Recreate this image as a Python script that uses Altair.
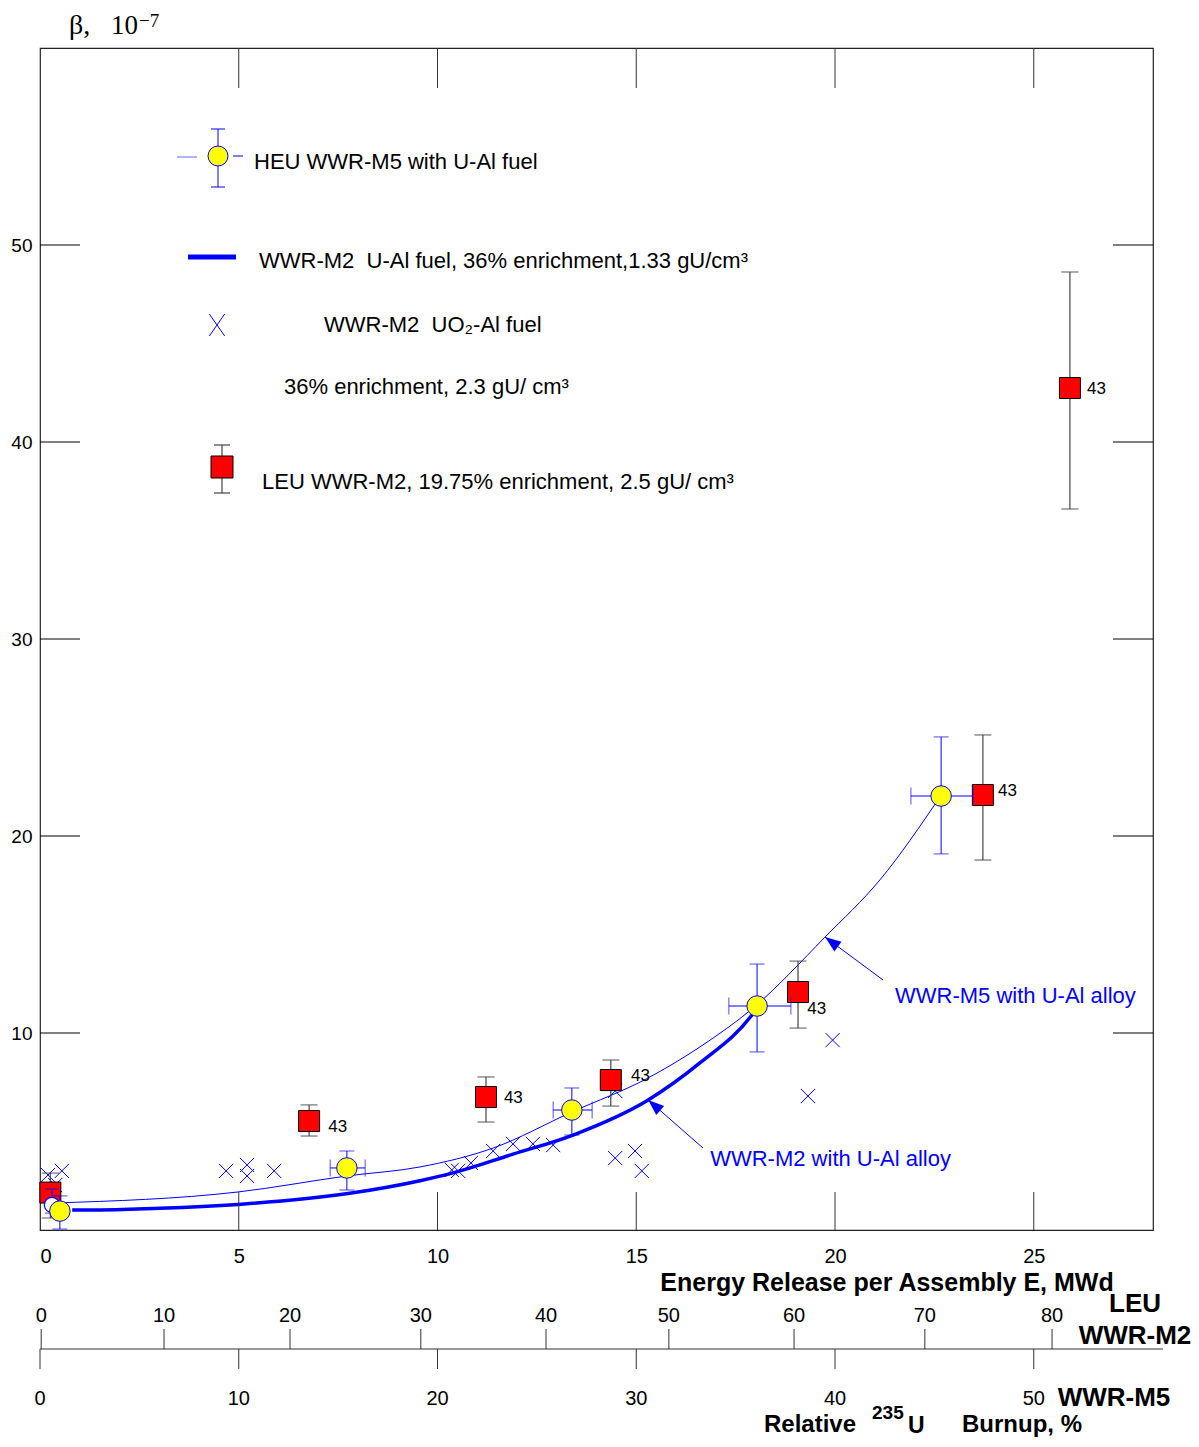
import math
import altair as alt
import pandas as pd

# ---------------- data ----------------
# HEU WWR-M5 with U-Al fuel (yellow circles, blue error bars)
heu_E    = [0.50, 7.72, 13.38, 18.04, 22.67]
heu_beta = [0.96, 3.15, 6.09, 11.37, 22.03]
heu_b_lo = [0.05, 2.03, 4.82, 9.04, 19.09]
heu_b_hi = [1.73, 4.01, 7.21, 13.50, 25.03]
heu_E_lo = [0.50, 7.30, 12.91, 17.33, 21.91]
heu_E_hi = [0.50, 8.18, 13.89, 18.89, 23.47]

# open circle at the start of the curves
open_E    = [0.30]
open_beta = [1.27]
open_lo   = [0.86]
open_hi   = [2.08]

# LEU WWR-M2, 19.75% (red squares, black error bars)
leu_E    = [0.26, 6.77, 11.22, 14.36, 19.07, 23.72, 25.91]
leu_beta = [1.90, 5.53, 6.75, 7.61, 12.08, 22.08, 42.74]
leu_lo   = [0.61, 4.77, 5.48, 6.29, 10.25, 18.78, 36.60]
leu_hi   = [2.89, 6.35, 7.77, 8.63, 13.65, 25.13, 48.63]
tag_E    = [7.25, 11.67, 14.87, 19.30, 24.10, 26.34]
tag_beta = [5.23, 6.70, 7.82, 11.22, 22.28, 42.69]
tag_text = ["43", "43", "43", "43", "43", "43"]

# WWR-M2 UO2-Al fuel (blue crosses)
x_E    = [0.20, 0.55, 0.38, 4.68, 5.21, 5.21, 5.89, 10.36, 10.52, 10.84, 11.40,
          11.90, 12.40, 12.91, 14.47, 14.47, 14.97, 15.14, 19.32, 19.94]
x_beta = [2.79, 3.00, 2.28, 3.00, 3.30, 2.74, 3.00, 3.05, 3.00, 3.40, 4.01,
          4.37, 4.37, 4.31, 7.06, 3.65, 4.01, 3.00, 6.80, 9.64]

# WWR-M2 with U-Al alloy (thick curve)
m2_E    = [0.81, 1.51, 3.02, 4.98, 7.75, 9.56, 10.39, 11.90, 13.41, 15.30, 16.60, 17.91, 18.04]
m2_beta = [1.02, 1.02, 1.10, 1.30, 1.85, 2.50, 2.90, 3.85, 4.82, 6.60, 8.48, 10.91, 11.27]

# WWR-M5 with U-Al alloy (thin curve)
m5_E    = [0.33, 4.98, 7.75, 9.56, 11.40, 13.38, 15.30, 16.60, 17.94, 19.75, 21.13, 22.64]
m5_beta = [1.37, 1.93, 2.75, 3.20, 4.16, 5.99, 7.72, 9.29, 11.27, 14.87, 17.77, 21.98]

# annotation arrows: tail -> tip
arrow_text     = ["WWR-M5 with U-Al alloy", "WWR-M2 with U-Al alloy"]
arrow_tail_E   = [21.21, 16.68]
arrow_tail_b   = [12.69, 4.16]
arrow_tip_E    = [19.75, 15.30]
arrow_tip_b    = [14.87, 6.60]
arrow_label_E  = [21.51, 16.86]
arrow_label_b  = [11.88, 3.60]

# axes
x_ticks = [0, 5, 10, 15, 20, 25]
x_inner = [5, 10, 15, 20, 25]
y_ticks = [10, 20, 30, 40, 50]
leu_burnup_labels = ["0", "10", "20", "30", "40", "50", "60", "70", "80"]
leu_burnup_at_E   = [0.03, 3.12, 6.29, 9.58, 12.73, 15.82, 18.97, 22.26, 25.46]
m5_burnup_labels  = ["0", "10", "20", "30", "40", "50"]
m5_burnup_at_E    = [0.0, 5.0, 10.0, 15.0, 20.0, 25.0]

# ---------------- layout ----------------
W, H = 1113, 1182
XMAX, YMAX = 28, 60
KX, KY = W / XMAX, H / YMAX
BLUE, RED, YEL = "#0000FF", "#FF0000", "#FFFF00"
FONT = "Liberation Sans"
NB = "\u00a0"

xs = alt.Scale(domain=[0, XMAX], nice=False, zero=False)
ys = alt.Scale(domain=[0, YMAX], nice=False, zero=False)

AXX = alt.Axis(values=x_ticks, labelFontSize=20, labelPadding=16, ticks=False,
               domain=False, grid=False, title=None, labelFlush=True,
               labelColor="black", labelFont=FONT)
AXY = alt.Axis(values=y_ticks, labelFontSize=19, labelPadding=8, ticks=False,
               domain=False, grid=False, title=None, labelColor="black",
               labelFont=FONT, labelBaseline="middle")


def X(f):
    return alt.X(f, type="quantitative", scale=xs, axis=AXX)


def Y(f):
    return alt.Y(f, type="quantitative", scale=ys, axis=AXY)


one = pd.DataFrame({"k": [0]})

heu = pd.DataFrame(dict(E=heu_E, b=heu_beta, lo=heu_b_lo, hi=heu_b_hi, El=heu_E_lo, Eh=heu_E_hi))
heu_h = heu[heu.El < heu.Eh]
opn = pd.DataFrame(dict(E=open_E, b=open_beta, lo=open_lo, hi=open_hi))
leu = pd.DataFrame(dict(E=leu_E, b=leu_beta, lo=leu_lo, hi=leu_hi))
tags = pd.DataFrame(dict(E=tag_E, b=tag_beta, t=tag_text))
crosses = pd.DataFrame(dict(E=x_E, b=x_beta))
m2 = pd.DataFrame(dict(E=m2_E, b=m2_beta))
m5 = pd.DataFrame(dict(E=m5_E, b=m5_beta))

arr = pd.DataFrame(dict(t=arrow_text, E0=arrow_tail_E, b0=arrow_tail_b, E1=arrow_tip_E,
                        b1=arrow_tip_b, LE=arrow_label_E, Lb=arrow_label_b))
dxp = (arr.E1 - arr.E0) * KX
dyp = -(arr.b1 - arr.b0) * KY
ln = (dxp ** 2 + dyp ** 2) ** 0.5
arr["ang"] = [(math.degrees(math.atan2(a, -b)) + 360) % 360 for a, b in zip(dxp, dyp)]
arr["hE"] = arr.E1 - 8 * dxp / ln / KX
arr["hb"] = arr.b1 + 8 * dyp / ln / KY

xin = pd.DataFrame({"E": x_inner})
yin = pd.DataFrame({"b": y_ticks})
leu_ax = pd.DataFrame({"E": leu_burnup_at_E, "t": leu_burnup_labels})
m5_ax = pd.DataFrame({"E": m5_burnup_at_E, "t": m5_burnup_labels})

CROSS = "M-1,-1L1,1M-1,1L1,-1"
CROSS_TALL = "M-0.7,-1L0.7,1M-0.7,1L0.7,-1"
HEAD = "M0,-1L-0.75,1L0.75,1Z"

layers = []

# curves
layers.append(alt.Chart(m2).mark_line(strokeWidth=3.5, color=BLUE, interpolate="monotone")
              .encode(x=X("E"), y=Y("b")))
layers.append(alt.Chart(m5).mark_line(strokeWidth=1, color=BLUE, interpolate="monotone")
              .encode(x=X("E"), y=Y("b")))

# inner ticks
tick_c = "#333333"
layers.append(alt.Chart(xin).mark_rule(color=tick_c).encode(x=X("E"), y=alt.value(0), y2=alt.value(40)))
layers.append(alt.Chart(xin).mark_rule(color=tick_c).encode(x=X("E"), y=alt.value(H - 38), y2=alt.value(H)))
layers.append(alt.Chart(yin).mark_rule(color="black").encode(y=Y("b"), x=alt.value(0), x2=alt.value(40)))
layers.append(alt.Chart(yin).mark_rule(color="black").encode(y=Y("b"), x=alt.value(W - 40), x2=alt.value(W)))

# crosses
layers.append(alt.Chart(crosses).mark_point(shape=CROSS, size=200, color=BLUE, strokeWidth=1,
                                            filled=False, opacity=1).encode(x=X("E"), y=Y("b")))

# LEU error bars + squares
ERRC = "#444444"
layers.append(alt.Chart(leu).mark_rule(color=ERRC, strokeWidth=1.2).encode(x=X("E"), y=Y("lo"), y2="hi"))
for f in ["lo", "hi"]:
    layers.append(alt.Chart(leu).mark_tick(orient="horizontal", size=17, thickness=1.3, color=ERRC)
                  .encode(x=X("E"), y=Y(f)))
layers.append(alt.Chart(leu).mark_square(size=441, color=RED, stroke="black", strokeWidth=1, opacity=1)
              .encode(x=X("E"), y=Y("b")))
layers.append(alt.Chart(tags).mark_text(fontSize=17, align="left", baseline="middle", color="black")
              .encode(x=X("E"), y=Y("b"), text="t:N"))

# open circle
layers.append(alt.Chart(opn).mark_rule(color=BLUE).encode(x=X("E"), y=Y("lo"), y2="hi"))
for f in ["lo", "hi"]:
    layers.append(alt.Chart(opn).mark_tick(orient="horizontal", size=14, thickness=1, color=BLUE)
                  .encode(x=X("E"), y=Y(f)))
layers.append(alt.Chart(opn).mark_circle(size=230, color="white", stroke=BLUE, strokeWidth=1.2, opacity=1)
              .encode(x=X("E"), y=Y("b")))

# HEU error bars + circles
layers.append(alt.Chart(heu).mark_rule(color=BLUE).encode(x=X("E"), y=Y("lo"), y2="hi"))
for f in ["lo", "hi"]:
    layers.append(alt.Chart(heu).mark_tick(orient="horizontal", size=15, thickness=1, color=BLUE)
                  .encode(x=X("E"), y=Y(f)))
layers.append(alt.Chart(heu_h).mark_rule(color=BLUE).encode(y=Y("b"), x=X("El"), x2="Eh"))
for f in ["El", "Eh"]:
    layers.append(alt.Chart(heu_h).mark_tick(orient="vertical", size=17, thickness=1, color=BLUE)
                  .encode(x=X(f), y=Y("b")))
layers.append(alt.Chart(heu).mark_circle(size=420, color=YEL, stroke=BLUE, strokeWidth=1, opacity=1)
              .encode(x=X("E"), y=Y("b")))

# arrows + annotation text
layers.append(alt.Chart(arr).mark_rule(color=BLUE, strokeWidth=1).encode(
    x=X("E0"), y=Y("b0"), x2="E1", y2="b1"))
layers.append(alt.Chart(arr).mark_point(shape=HEAD, size=256, filled=True, color=BLUE, opacity=1).encode(
    x=X("hE"), y=Y("hb"), angle=alt.Angle("ang:Q", scale=None)))
layers.append(alt.Chart(arr).mark_text(fontSize=22, align="left", baseline="middle", color=BLUE).encode(
    x=X("LE"), y=Y("Lb"), text="t:N"))


# ---------------- legend (drawn inside the plot) ----------------
def txt(s, x, y, size=22, **kw):
    return alt.Chart(one).mark_text(text=s, fontSize=size, align=kw.pop("align", "left"),
                                    baseline=kw.pop("baseline", "middle"),
                                    color=kw.pop("color", "black"), **kw).encode(
        x=alt.value(x), y=alt.value(y))


def seg(x1, y1, x2, y2, color=BLUE, w=1):
    return alt.Chart(one).mark_rule(color=color, strokeWidth=w).encode(
        x=alt.value(x1), y=alt.value(y1), x2=alt.value(x2), y2=alt.value(y2))


layers += [
    seg(178, 81, 178, 139), seg(171, 81, 185, 81), seg(171, 139, 185, 139),
    seg(137, 109, 157, 109, color="#6666FF"), seg(193, 108, 203, 108),
    alt.Chart(one).mark_circle(size=400, color=YEL, stroke=BLUE, strokeWidth=1, opacity=1)
    .encode(x=alt.value(178), y=alt.value(108)),
    txt("HEU WWR-M5 with U-Al fuel", 214, 114),
    seg(148, 209, 196, 209, w=5),
    txt("WWR-M2" + NB + NB + "U-Al fuel, 36% enrichment,1.33 gU/cm³", 219, 213),
    alt.Chart(one).mark_point(shape=CROSS_TALL, size=484, color=BLUE, strokeWidth=1, filled=False,
                              opacity=1).encode(x=alt.value(177), y=alt.value(277)),
    txt("WWR-M2" + NB + NB + "UO₂-Al fuel", 284, 277),
    txt("36% enrichment, 2.3 gU/ cm³", 244, 339),
    seg(182, 397, 182, 445, color=ERRC, w=1.2), seg(174, 397, 190, 397, color=ERRC, w=1.2),
    seg(174, 445, 190, 445, color=ERRC, w=1.2),
    alt.Chart(one).mark_square(size=484, color=RED, stroke="black", strokeWidth=1, opacity=1)
    .encode(x=alt.value(182), y=alt.value(419)),
    txt("LEU WWR-M2, 19.75% enrichment, 2.5 gU/ cm³", 222, 434),
]

# y axis title
layers += [
    txt("β,", 29, -14, size=28, font="Liberation Serif", baseline="alphabetic"),
    txt("10", 71, -14, size=27, font="Liberation Serif", baseline="alphabetic"),
    txt("−7", 99, -21, size=19, font="Liberation Serif", baseline="alphabetic"),
]

# ---------------- secondary burnup axes ----------------
AX = H + 119
layers.append(seg(0, AX, 1123, AX, color="#333333"))
layers.append(alt.Chart(leu_ax).mark_rule(color="#333333").encode(x=X("E"), y=alt.value(AX - 20), y2=alt.value(AX)))
layers.append(alt.Chart(m5_ax).mark_rule(color="#333333").encode(x=X("E"), y=alt.value(AX), y2=alt.value(AX + 20)))
layers.append(alt.Chart(leu_ax).mark_text(fontSize=20, baseline="middle", color="black")
              .encode(x=X("E"), y=alt.value(H + 86), text="t:N"))
layers.append(alt.Chart(m5_ax).mark_text(fontSize=20, baseline="middle", color="black")
              .encode(x=X("E"), y=alt.value(H + 169), text="t:N"))

layers += [
    txt("Energy Release per Assembly E, MWd", 847, H + 53, size=25, align="center", fontWeight="bold"),
    txt("LEU", 1095, H + 74, size=26, align="center", fontWeight="bold"),
    txt("WWR-M2", 1095, H + 106, size=26, align="center", fontWeight="bold"),
    txt("WWR-M5", 1074, H + 168, size=26, align="center", fontWeight="bold"),
    txt("Relative", 724, H + 195, size=24, fontWeight="bold"),
    txt("235", 832, H + 183, size=19, fontWeight="bold"),
    txt("U", 868, H + 196, size=23, fontWeight="bold"),
    txt("Burnup, %", 922, H + 195, size=24, fontWeight="bold"),
]

chart = (
    alt.layer(*layers)
    .properties(width=W, height=H,
                padding={"left": 32, "top": 40, "right": 38, "bottom": 209},
                autosize=alt.AutoSizeParams(type="none"))
    .configure(font=FONT)
    .configure_view(stroke="#222222", strokeWidth=1.2)
    .configure_text(font=FONT)
)

chart.save("out.html", embed_options={"renderer": "svg", "actions": False})
